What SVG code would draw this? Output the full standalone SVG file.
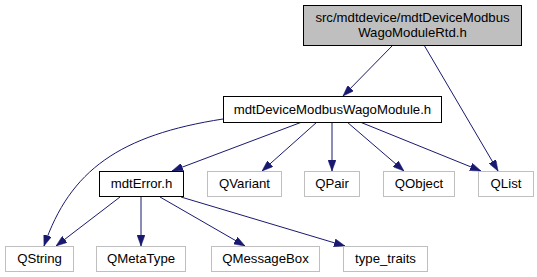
<svg xmlns="http://www.w3.org/2000/svg" width="537" height="277" viewBox="0 0 537 277">
  <style>
    text { font-family: "Liberation Sans", Arial, Helvetica, sans-serif; font-size: 13.2px; fill: #000; text-anchor: middle; }
    .main rect { fill: #bfbfbf; stroke: #000; stroke-width: 1; }
    .file rect { fill: #fff; stroke: #000; stroke-width: 1; }
    .ext rect { fill: #fff; stroke: #bfbfbf; stroke-width: 1; }
    .edge { fill: none; stroke: #191970; stroke-width: 1; marker-end: url(#arrow); }
  </style>
  <defs>
    <marker id="arrow" viewBox="0 0 11 8" refX="11" refY="4" markerWidth="11" markerHeight="8" markerUnits="userSpaceOnUse" orient="auto">
      <path d="M0,0 L11,4 L0,8 z" fill="#191970" stroke="#191970" stroke-width="0.5"/>
    </marker>
  </defs>
  <rect width="537" height="277" fill="#fff"/>

  <g id="edges">
    <path class="edge" d="M393,45 L343,96"/>
    <path class="edge" d="M424,45 L498,171"/>
    <path class="edge" d="M360,122 L481,171"/>
    <path class="edge" d="M347,122 L404,171"/>
    <path class="edge" d="M332,122 L332,171"/>
    <path class="edge" d="M317,122 L262,171"/>
    <path class="edge" d="M302,122 L172,171"/>
    <path class="edge" d="M223,119 C120,135 70,170 44,246"/>
    <path class="edge" d="M120,197 L56,246"/>
    <path class="edge" d="M141,197 L141,246"/>
    <path class="edge" d="M160,197 L245,246"/>
    <path class="edge" d="M181,197 L345,246"/>
  </g>

  <g id="node-wagoModuleRtd" class="main">
    <rect x="303.5" y="5.5" width="218" height="40"/>
    <text x="412.5" y="22">src/mdtdevice/mdtDeviceModbus</text>
    <text x="412.5" y="37">WagoModuleRtd.h</text>
  </g>
  <g id="node-wagoModule" class="file">
    <rect x="223.5" y="96.5" width="218" height="26"/>
    <text x="332.5" y="113.5">mdtDeviceModbusWagoModule.h</text>
  </g>
  <g id="node-mdtError" class="file">
    <rect x="99.5" y="171.5" width="84" height="25"/>
    <text x="141.5" y="188">mdtError.h</text>
  </g>
  <g id="node-QVariant" class="ext">
    <rect x="207.5" y="171.5" width="74" height="25"/>
    <text x="244.5" y="188">QVariant</text>
  </g>
  <g id="node-QPair" class="ext">
    <rect x="304.5" y="171.5" width="55" height="25"/>
    <text x="332" y="188">QPair</text>
  </g>
  <g id="node-QObject" class="ext">
    <rect x="383.5" y="171.5" width="71" height="25"/>
    <text x="419" y="188">QObject</text>
  </g>
  <g id="node-QList" class="ext">
    <rect x="478.5" y="171.5" width="55" height="25"/>
    <text x="506" y="188">QList</text>
  </g>
  <g id="node-QString" class="ext">
    <rect x="5.5" y="246.5" width="68" height="25"/>
    <text x="39.5" y="263">QString</text>
  </g>
  <g id="node-QMetaType" class="ext">
    <rect x="96.5" y="246.5" width="89" height="25"/>
    <text x="141" y="263">QMetaType</text>
  </g>
  <g id="node-QMessageBox" class="ext">
    <rect x="211.5" y="246.5" width="108" height="25"/>
    <text x="265.5" y="263">QMessageBox</text>
  </g>
  <g id="node-type_traits" class="ext">
    <rect x="343.5" y="246.5" width="84" height="25"/>
    <text x="385.5" y="263">type_traits</text>
  </g>
</svg>
